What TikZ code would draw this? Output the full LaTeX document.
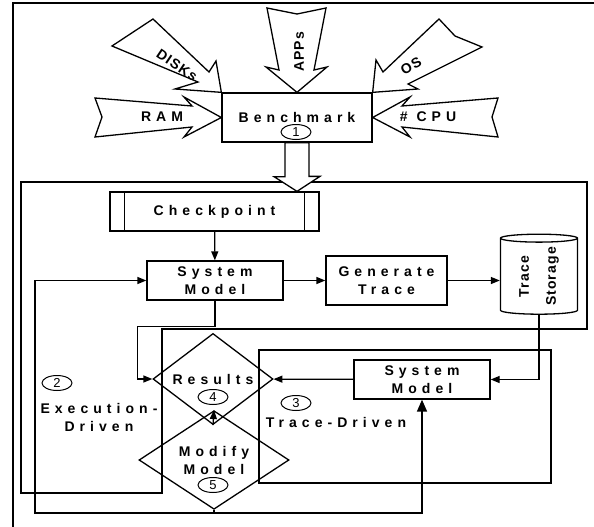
\documentclass[tikz,border=0pt]{standalone}
\usepackage{fontspec}
\setmainfont{Liberation Sans}
\newfontfamily\widefont[LetterSpace=36]{Liberation Sans}
\newfontfamily\tightfont[LetterSpace=8]{Liberation Sans}
\usetikzlibrary{arrows.meta,shapes.geometric}

\begin{document}
\begin{tikzpicture}[x=1pt,y=-1pt,
  box/.style={draw,line width=1.3pt,inner sep=0pt,align=center,
    font=\widefont\bfseries\fontsize{14}{18}\selectfont},
  decision/.style={box,diamond},
  store/.style={draw,line width=1.3pt,cylinder,aspect=0.2,inner sep=0pt,
    align=center,font=\tightfont\bfseries\fontsize{14}{27}\selectfont},
  tag/.style={inner sep=0pt,align=center,
    font=\widefont\bfseries\fontsize{14}{18}\selectfont},
  small/.style={tag,font=\tightfont\bfseries\fontsize{14}{18}\selectfont},
  num/.style={draw,ellipse,fill=white,line width=1pt,inner sep=0pt,
    minimum width=30pt,minimum height=15pt,font=\fontsize{13}{13}\selectfont},
  block/.style={draw,line width=1.3pt,fill=white},
  frame/.style={draw,line width=1.6pt},
  flow/.style={-{Triangle[length=9pt,width=7pt]},line width=1.3pt},
  bigflow/.style={-{Triangle[length=12pt,width=10pt]},line width=1.6pt}]
\useasboundingbox (0,0) rectangle (594,527);
% frames
\draw[line width=2pt] (13,527) -- (13,3) -- (594,3);
\draw[frame] (21,182) -- (587,182) -- (587,329) -- (162,329) -- (162,493)
  -- (21,493) -- cycle;
\draw[frame] (259,350) rectangle (551,483);
% nodes
\node[box,minimum width=150pt,minimum height=49pt] (bm) at (297,117.5) {Benchmark};
\node[box,minimum width=209pt,minimum height=39pt] (cp) at (214.5,211.5) {Checkpoint};
\draw[line width=1.3pt] ([xshift=15pt]cp.north west) -- ([xshift=15pt]cp.south west);
\draw[line width=1.3pt] ([xshift=-15pt]cp.north east) -- ([xshift=-15pt]cp.south east);
\node[box,minimum width=136pt,minimum height=39pt] (sm1) at (215,280.5) {System\\Model};
\node[box,minimum width=121pt,minimum height=49pt] (gt) at (386.5,280.5) {Generate\\Trace};
\node[store,rotate=90,minimum width=77pt,minimum height=80pt] (ts) at (539,276.5)
  {Trace\\Storage};
\node[box,minimum width=136pt,minimum height=39pt] (sm2) at (422,379.5) {System\\Model};
\node[decision,minimum width=120pt,minimum height=58pt] (res) at (213,379) {Results};
\node[decision,minimum width=150pt,minimum height=74pt] (mod) at (214,460) {Modify\\Model};
% input arrows
\draw[block] (95,98) -- (192,106) -- (184,97) -- (bm.west) -- (184,137) -- (192,127)
  -- (95,137) -- (102,117) -- cycle;
\draw[block] (498,98) -- (402,106) -- (410,97) -- (bm.east) -- (410,137) -- (402,127)
  -- (498,137) -- (492,117) -- cycle;
\draw[block] (267,8) -- (297,14) -- (326,8) -- (314,70) -- (327,67) -- (bm.north)
  -- (266,67) -- (279,70) -- cycle;
\draw[block] (112,46) -- (153,19) -- (209,72) -- (216,61) -- (bm.north west)
  -- (175,89) -- (198,82) -- cycle;
\draw[block] (439,19) -- (455,36) -- (482,47) -- (408,84) -- (418,89)
  -- (bm.north east) -- (376,60) -- (383,72) -- cycle;
\node[tag] (ram) at (162,117) {RAM};
\node[tag] (cpu) at (428,117) {\# CPU};
\node[small,rotate=90] (apps) at (299,52) {APPs};
\node[small,rotate=-34] (disks) at (177,65) {DISKs};
\node[small,rotate=30] (os) at (411,66) {OS};
% benchmark to checkpoint
\draw[block] ([xshift=-12pt]bm.south) -- ++(0,34) -- ++(-11,0) -- (bm.south |- cp.north)
  -- ++(23,-15) -- ++(-11,0) -- ([xshift=12pt]bm.south) -- cycle;
% connectors
\draw[flow] (cp) -- (sm1);
\draw[flow] (sm1) -- (gt);
\draw[flow] (gt) -- (gt -| ts.north);
\draw[flow] (ts.west) |- (sm2.east);
\draw[flow] (sm2) -- (res);
\draw[flow] (sm1.south) -- ++(0,26) -| ([xshift=-15pt]res.west) -- (res.west);
\draw[flow] (res.south) -- (mod.north);
\coordinate (fb) at (35,513);
\draw[flow] (mod.south) |- (fb) |- (sm1.west);
\draw[bigflow] (mod.south |- fb) -| (sm2.south);
% labels
\node[num] (n1) at (296,132) {1};
\node[num] (n2) at (57,383) {2};
\node[num] (n3) at (296,403) {3};
\node[num] (n4) at (213,397) {4};
\node[num] (n5) at (213,485) {5};
\node[tag] (exe) at (99,417) {Execution-\\Driven};
\node[tag] (trd) at (336,422) {Trace-Driven};
\end{tikzpicture}
\end{document}
